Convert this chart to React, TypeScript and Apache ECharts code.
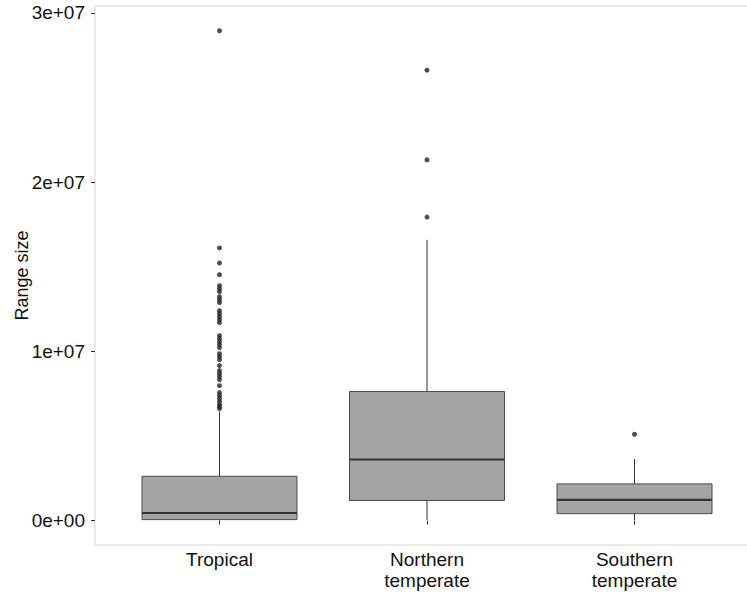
import React, { useEffect, useRef } from "react";
import * as echarts from "echarts";

// Categories and their positions on the (discrete) x scale
const categories = ["Tropical", "Northern\ntemperate", "Southern\ntemperate"];
const categoryPositions = [1, 2, 3];

// Box statistics: [min, Q1, median, Q3, max] (range size)
const tropicalBox = [10000, 60000, 450000, 2620000, 6450000];
const northernBox = [20000, 1190000, 3610000, 7630000, 16590000];
const southernBox = [20000, 410000, 1220000, 2170000, 3640000];

// Outliers
const tropicalOutliers = [
  28940000, 16110000, 15220000, 14530000, 13880000, 13700000, 13530000,
  13230000, 13050000, 12880000, 12400000, 12230000, 12050000, 11870000,
  11700000, 10930000, 10750000, 10570000, 10400000, 10220000, 9860000,
  9690000, 9510000, 9160000, 8860000, 8680000, 8510000, 8330000, 7970000,
  7560000, 7380000, 7210000, 7030000, 6850000, 6730000, 6620000,
];
const northernOutliers = [26610000, 21310000, 17930000];
const southernOutliers = [5100000];

// Y axis ticks
const yTickValues = [0, 10000000, 20000000, 30000000];
const yTickLabels = ["0e+00", "1e+07", "2e+07", "3e+07"];

const boxes = [tropicalBox, northernBox, southernBox];
const outlierGroups = [tropicalOutliers, northernOutliers, southernOutliers];

const FONT = "Liberation Sans, Arial, sans-serif";
const BOX_PX = 155;

export default function App() {
  const ref = useRef<HTMLDivElement>(null);

  useEffect(() => {
    if (!ref.current) return;
    const chart = echarts.init(ref.current, null, { renderer: "svg" });

    const boxData = boxes.map((b, i) => [categoryPositions[i], ...b]);
    const outlierData: number[][] = [];
    outlierGroups.forEach((g, i) =>
      g.forEach((v) => outlierData.push([categoryPositions[i], v]))
    );

    chart.setOption({
      animation: false,
      backgroundColor: "#ffffff",
      grid: {
        left: 95,
        top: 6,
        width: 664,
        bottom: 47,
        show: true,
        borderColor: "#d6d6d6",
        borderWidth: 1,
        backgroundColor: "transparent",
        containLabel: false,
        outerBoundsMode: "none",
      },
      xAxis: {
        type: "value",
        min: 0.4,
        max: 3.6,
        axisLine: { show: false },
        splitLine: { show: false },
        axisTick: {
          show: true,
          length: 4,
          customValues: categoryPositions,
          lineStyle: { color: "#333333", width: 1 },
        },
        axisLabel: {
          customValues: categoryPositions,
          formatter: (v: number) => categories[Math.round(v) - 1] ?? "",
          fontFamily: FONT,
          fontSize: 19,
          lineHeight: 21,
          color: "#111111",
          margin: 4,
        },
      },
      yAxis: {
        type: "value",
        min: -1440000,
        max: 30400000,
        name: "Range size",
        nameLocation: "middle",
        nameRotate: 90,
        nameGap: 64,
        nameMoveOverlap: false,
        nameTextStyle: { fontFamily: FONT, fontSize: 18, color: "#111111" },
        axisLine: { show: false },
        splitLine: { show: false },
        axisTick: {
          show: true,
          length: 4,
          customValues: yTickValues,
          lineStyle: { color: "#333333", width: 1 },
        },
        axisLabel: {
          customValues: yTickValues,
          formatter: (v: number) => {
            const idx = yTickValues.indexOf(v);
            return idx >= 0 ? yTickLabels[idx] : "";
          },
          fontFamily: FONT,
          fontSize: 19,
          color: "#111111",
          margin: 10,
        },
      },
      series: [
        {
          type: "custom",
          data: boxData,
          encode: { x: 0, y: [1, 2, 3, 4, 5] },
          renderItem: (params: any, api: any) => {
            const x = api.value(0);
            const pMin = api.coord([x, api.value(1)]);
            const pQ1 = api.coord([x, api.value(2)]);
            const pMed = api.coord([x, api.value(3)]);
            const pQ3 = api.coord([x, api.value(4)]);
            const pMax = api.coord([x, api.value(5)]);
            const cx = pMed[0];
            const half = BOX_PX / 2;
            return {
              type: "group",
              children: [
                {
                  type: "line",
                  shape: { x1: cx, y1: pQ3[1], x2: cx, y2: pMax[1] },
                  style: { stroke: "#333333", lineWidth: 1 },
                },
                {
                  type: "line",
                  shape: { x1: cx, y1: pQ1[1], x2: cx, y2: pMin[1] },
                  style: { stroke: "#333333", lineWidth: 1 },
                },
                {
                  type: "rect",
                  shape: {
                    x: cx - half,
                    y: pQ3[1],
                    width: BOX_PX,
                    height: pQ1[1] - pQ3[1],
                  },
                  style: { fill: "#a4a4a4", stroke: "#4a4a4a", lineWidth: 1 },
                },
                {
                  type: "line",
                  shape: { x1: cx - half, y1: pMed[1], x2: cx + half, y2: pMed[1] },
                  style: { stroke: "#333333", lineWidth: 2.2 },
                },
              ],
            };
          },
          z: 2,
          silent: true,
        },
        {
          type: "scatter",
          data: outlierData,
          symbol: "circle",
          symbolSize: 5,
          itemStyle: { color: "#222222" },
          emphasis: { disabled: true },
          z: 4,
        },
      ],
    });

    return () => chart.dispose();
  }, []);

  return (
    <div
      ref={ref}
      style={{ position: "fixed", left: 0, top: 0, width: 747, height: 592, background: "#fff" }}
    />
  );
}
